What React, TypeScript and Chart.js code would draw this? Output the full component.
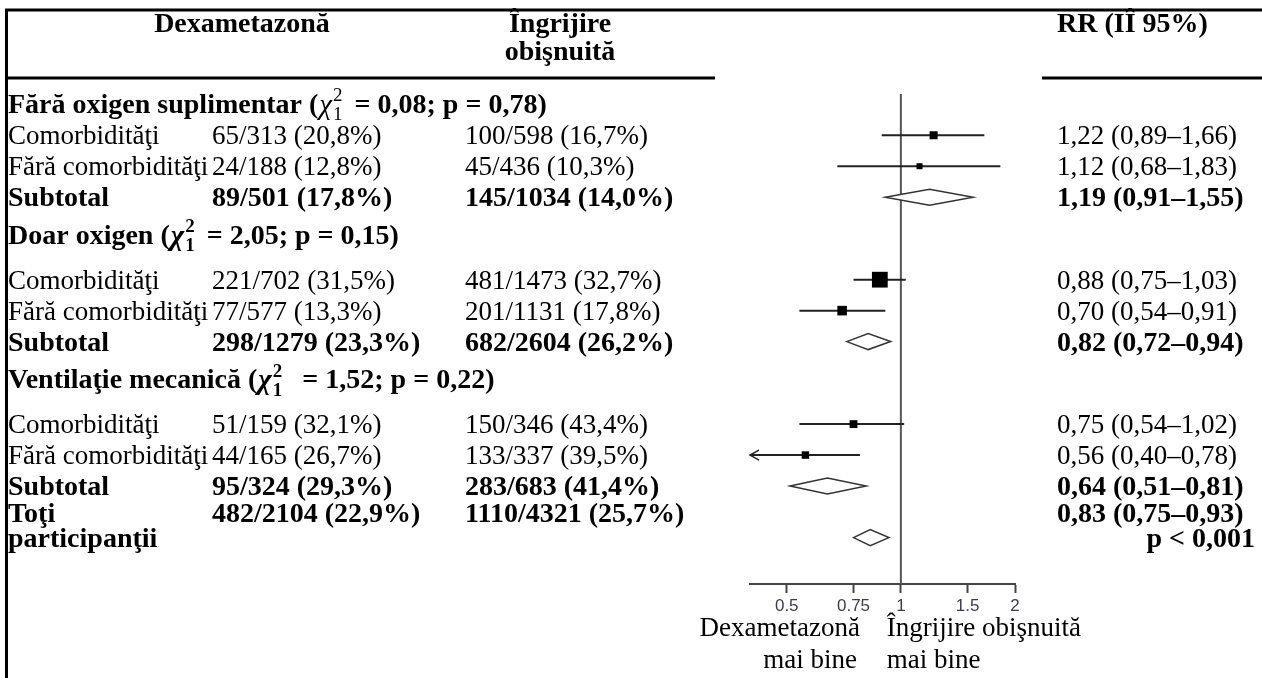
import React, { useEffect, useRef } from 'react';
import { Chart, registerables } from 'chart.js';

Chart.register(...registerables);

// ---------- data ----------
const headerDex = 'Dexametazonă';
const headerUc = ['Îngrijire', 'obişnuită'];
const headerRr = 'RR (IÎ 95%)';

const groupNames = ['Fără oxigen suplimentar', 'Doar oxigen', 'Ventilaţie mecanică'];
const groupChi = ['0,08', '2,05', '1,52'];
const groupP = ['0,78', '0,15', '0,22'];

const subgroupNames = ['Comorbidităţi', 'Fără comorbidităţi', 'Comorbidităţi', 'Fără comorbidităţi', 'Comorbidităţi', 'Fără comorbidităţi'];
const dexEvents = [65, 24, 221, 77, 51, 44];
const dexTotals = [313, 188, 702, 577, 159, 165];
const dexPct = ['20,8', '12,8', '31,5', '13,3', '32,1', '26,7'];
const ucEvents = [100, 45, 481, 201, 150, 133];
const ucTotals = [598, 436, 1473, 1131, 346, 337];
const ucPct = ['16,7', '10,3', '32,7', '17,8', '43,4', '39,5'];
const rrValues = [1.22, 1.12, 0.88, 0.70, 0.75, 0.56];
const rrLow = [0.89, 0.68, 0.75, 0.54, 0.54, 0.40];
const rrHigh = [1.66, 1.83, 1.03, 0.91, 1.02, 0.78];

const subtotalLabel = 'Subtotal';
const subDexEvents = [89, 298, 95];
const subDexTotals = [501, 1279, 324];
const subDexPct = ['17,8', '23,3', '29,3'];
const subUcEvents = [145, 682, 283];
const subUcTotals = [1034, 2604, 683];
const subUcPct = ['14,0', '26,2', '41,4'];
const subRr = [1.19, 0.82, 0.64];
const subLow = [0.91, 0.72, 0.51];
const subHigh = [1.55, 0.94, 0.81];

const overallLabel = ['Toţi', 'participanţii'];
const overallDex = [482, 2104];
const overallDexPct = '22,9';
const overallUc = [1110, 4321];
const overallUcPct = '25,7';
const overallRr = [0.83, 0.75, 0.93];
const overallP = 'p < 0,001';

const xTicks = [0.5, 0.75, 1, 1.5, 2];
const favourLeft = ['Dexametazonă', 'mai bine'];
const favourRight = ['Îngrijire obişnuită', 'mai bine'];

// ---------- layout (row slots on the vertical scale) ----------
const headerSlot = [-0.1, 12.6, 26.6];
const studySlot = [3, 6, 17, 20, 31, 34];
const subSlot = [9, 23, 37];
const overallSlot = [39.6, 42];

const SERIF = '"Liberation Serif", "Times New Roman", serif';
const REG = `27px ${SERIF}`;
const BOLD = `bold 28px ${SERIF}`;
const TEXT_DY = 2;

const fmt = (v: number) => v.toFixed(2).replace('.', ',');
const rrText = (v: number, lo: number, hi: number) => `${fmt(v)} (${fmt(lo)}–${fmt(hi)})`;

const forestPlugin = {
  id: 'forest',
  beforeDatasetsDraw(chart: any) {
    const { ctx, chartArea, scales } = chart;
    const x = scales.x;
    const y = scales.y;
    ctx.save();
    // line of no effect
    const x1 = x.getPixelForValue(1);
    ctx.strokeStyle = '#555';
    ctx.lineWidth = 2;
    ctx.beginPath();
    ctx.moveTo(x1, chartArea.top);
    ctx.lineTo(x1, chartArea.bottom);
    ctx.stroke();
    // confidence intervals
    ctx.strokeStyle = '#222';
    ctx.lineWidth = 2;
    rrValues.forEach((_, i) => {
      const yy = y.getPixelForValue(studySlot[i]);
      const lo = Math.max(rrLow[i], x.min);
      const hi = Math.min(rrHigh[i], x.max);
      const xl = x.getPixelForValue(lo);
      const xh = x.getPixelForValue(hi);
      ctx.beginPath();
      ctx.moveTo(xl, yy);
      ctx.lineTo(xh, yy);
      ctx.stroke();
      if (rrLow[i] <= x.min) {
        ctx.lineWidth = 1.5;
        ctx.beginPath();
        ctx.moveTo(xl + 9, yy - 5);
        ctx.lineTo(xl, yy);
        ctx.lineTo(xl + 9, yy + 5);
        ctx.stroke();
        ctx.lineWidth = 2;
      }
    });
    ctx.restore();
  },
  afterDatasetsDraw(chart: any) {
    const { ctx, scales } = chart;
    const x = scales.x;
    const y = scales.y;
    const diamond = (v: number, lo: number, hi: number, slot: number) => {
      const yy = y.getPixelForValue(slot);
      const h = 8;
      ctx.beginPath();
      ctx.moveTo(x.getPixelForValue(lo), yy);
      ctx.lineTo(x.getPixelForValue(v), yy - h);
      ctx.lineTo(x.getPixelForValue(hi), yy);
      ctx.lineTo(x.getPixelForValue(v), yy + h);
      ctx.closePath();
      ctx.fill();
      ctx.stroke();
    };
    ctx.save();
    ctx.fillStyle = '#fff';
    ctx.strokeStyle = '#333';
    ctx.lineWidth = 1.5;
    subRr.forEach((v, i) => diamond(v, subLow[i], subHigh[i], subSlot[i]));
    diamond(overallRr[0], overallRr[1], overallRr[2], overallSlot[1]);
    ctx.restore();
  },
  afterDraw(chart: any) {
    const { ctx, scales } = chart;
    const y = scales.y;
    const x = scales.x;
    const W = chart.width;
    const H = chart.height;
    const colLabel = 8;
    const colDex = 212;
    const colUc = 465;
    const colRr = 1057;
    const pRight = 1255;
    const rowY = (slot: number) => y.getPixelForValue(slot) + TEXT_DY;

    ctx.save();
    ctx.fillStyle = '#000';
    ctx.textBaseline = 'middle';
    const text = (s: string, px: number, py: number, font: string, align: CanvasTextAlign = 'left') => {
      ctx.font = font;
      ctx.textAlign = align;
      ctx.fillText(s, px, py);
    };

    // table rules
    ctx.strokeStyle = '#000';
    ctx.lineWidth = 3;
    ctx.beginPath();
    ctx.moveTo(5, 10);
    ctx.lineTo(W, 10);
    ctx.moveTo(6.5, 10);
    ctx.lineTo(6.5, H);
    ctx.moveTo(5, 78);
    ctx.lineTo(715, 78);
    ctx.moveTo(1042, 78);
    ctx.lineTo(W, 78);
    ctx.stroke();

    // column headers
    text(headerDex, 242, 25, BOLD, 'center');
    text(headerUc[0], 560, 25, BOLD, 'center');
    text(headerUc[1], 560, 53, BOLD, 'center');
    text(headerRr, colRr, 25, BOLD, 'left');

    // group headers with chi-square
    groupNames.forEach((name, g) => {
      const yy = rowY(headerSlot[g]);
      let px = colLabel;
      const s1 = `${name} (`;
      text(s1, px, yy, BOLD);
      px += ctx.measureText(s1).width;
      const chiFont = g === 0 ? `italic 29px ${SERIF}` : `italic bold 29px ${SERIF}`;
      text('χ', px + 1, yy + 1, chiFont);
      px += ctx.measureText('χ').width + 2;
      const idxFont = g === 0 ? `19px ${SERIF}` : `bold 19px ${SERIF}`;
      text('2', px, yy - 9, idxFont);
      text('1', px, yy + 10, idxFont);
      px += ctx.measureText('2').width + (g === 2 ? 20 : 12);
      text(`= ${groupChi[g]}; p = ${groupP[g]})`, px, yy, BOLD);
    });

    // study rows
    subgroupNames.forEach((name, i) => {
      const yy = rowY(studySlot[i]);
      text(name, colLabel, yy, REG);
      text(`${dexEvents[i]}/${dexTotals[i]} (${dexPct[i]}%)`, colDex, yy, REG);
      text(`${ucEvents[i]}/${ucTotals[i]} (${ucPct[i]}%)`, colUc, yy, REG);
      text(rrText(rrValues[i], rrLow[i], rrHigh[i]), colRr, yy, REG);
    });

    // subtotal rows
    subRr.forEach((v, g) => {
      const yy = rowY(subSlot[g]);
      text(subtotalLabel, colLabel, yy, BOLD);
      text(`${subDexEvents[g]}/${subDexTotals[g]} (${subDexPct[g]}%)`, colDex, yy, BOLD);
      text(`${subUcEvents[g]}/${subUcTotals[g]} (${subUcPct[g]}%)`, colUc, yy, BOLD);
      text(rrText(v, subLow[g], subHigh[g]), colRr, yy, BOLD);
    });

    // overall
    const y1 = rowY(overallSlot[0]);
    const y2 = rowY(overallSlot[1]);
    text(overallLabel[0], colLabel, y1, BOLD);
    text(overallLabel[1], colLabel, y2, BOLD);
    text(`${overallDex[0]}/${overallDex[1]} (${overallDexPct}%)`, colDex, y1, BOLD);
    text(`${overallUc[0]}/${overallUc[1]} (${overallUcPct}%)`, colUc, y1, BOLD);
    text(rrText(overallRr[0], overallRr[1], overallRr[2]), colRr, y1, BOLD);
    text(overallP, pRight, y2, BOLD, 'right');

    // favour labels
    const xMid = x.getPixelForValue(1);
    text(favourLeft[0], xMid - 41, 629, REG, 'right');
    text(favourLeft[1], xMid - 44, 661, REG, 'right');
    text(favourRight[0], xMid - 14, 629, REG, 'left');
    text(favourRight[1], xMid - 14, 661, REG, 'left');

    ctx.restore();
  },
};

export default function App() {
  const canvasRef = useRef<HTMLCanvasElement | null>(null);

  useEffect(() => {
    const canvas = canvasRef.current;
    if (!canvas) return;
    const sideOf = (lo: number, hi: number) => Math.max(6, 5 / Math.log(hi / lo));
    const chart = new Chart(canvas, {
      type: 'scatter',
      data: {
        datasets: [
          {
            label: 'RR',
            data: rrValues.map((v, i) => ({ x: v, y: studySlot[i] })),
            pointStyle: 'rect',
            pointRadius: rrValues.map((_, i) => sideOf(rrLow[i], rrHigh[i]) / Math.SQRT2),
            backgroundColor: '#000',
            borderColor: '#000',
            borderWidth: 0,
            clip: false as any,
          },
        ],
      },
      options: {
        responsive: false,
        maintainAspectRatio: false,
        animation: false,
        devicePixelRatio: 1,
        events: [],
        layout: { padding: { left: 750, right: 247, top: 94, bottom: 58.6 } },
        plugins: { legend: { display: false }, tooltip: { enabled: false }, title: { display: false } },
        scales: {
          x: {
            type: 'logarithmic',
            position: 'bottom',
            min: 0.4,
            max: 2,
            afterBuildTicks: (scale: any) => {
              scale.ticks = xTicks.map((v) => ({ value: v }));
            },
            ticks: {
              autoSkip: false,
              maxRotation: 0,
              padding: 3,
              color: '#3c3c48',
              font: { family: '"Liberation Sans", Arial, sans-serif', size: 17 },
              callback: (v: any) => String(v),
            },
            grid: {
              display: true,
              drawOnChartArea: false,
              drawTicks: true,
              tickLength: 9,
              tickWidth: 2,
              tickColor: '#444',
            },
            border: { display: true, color: '#444', width: 2 },
          },
          y: {
            type: 'linear',
            min: -1,
            max: 46.5,
            reverse: true,
            display: false,
          },
        },
      },
      plugins: [forestPlugin],
    } as any);
    return () => chart.destroy();
  }, []);

  return (
    <div style={{ position: 'fixed', left: 0, top: 0, width: 1262, height: 678, background: '#fff' }}>
      <canvas ref={canvasRef} width={1262} height={678} style={{ display: 'block', width: 1262, height: 678 }} />
    </div>
  );
}
